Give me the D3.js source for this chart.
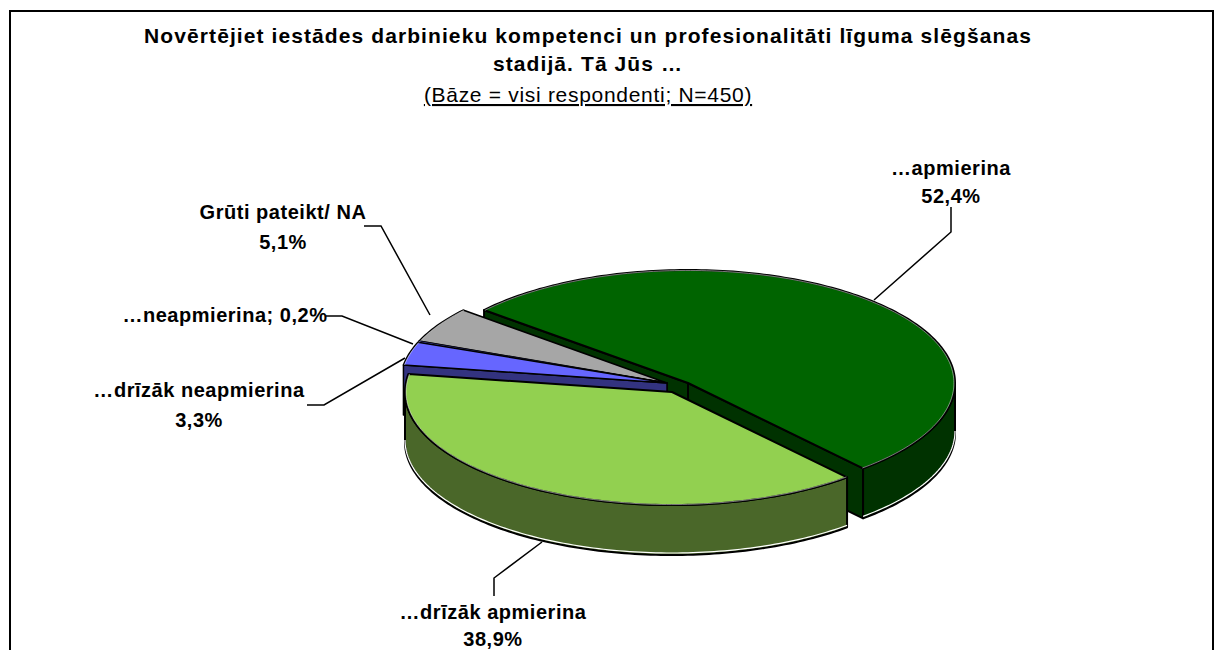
<!DOCTYPE html>
<html><head><meta charset="utf-8">
<script src="https://cdnjs.cloudflare.com/ajax/libs/d3/7.8.5/d3.min.js"></script>
<style>html,body{margin:0;padding:0;background:#fff}svg{display:block}
text{font-family:"Liberation Sans",Arial,sans-serif;fill:#000}</style></head>
<body><svg id="c" width="1227" height="650"></svg>
<script>
const categories=["…apmierina","…drīzāk apmierina","…drīzāk neapmierina","…neapmierina","Grūti pateikt/ NA"];
const values=[52.4,38.9,3.3,0.2,5.1];
const valueLabels=["52,4%","38,9%","3,3%","0,2%","5,1%"];
const topColors=["#006400","#92D050","#6666FF","#6666FF","#A6A6A6"];
const wallColors=["#003200","#4A6729","#333380","#333380","#535353"];
const apexes=[[688,383],[672,392],[667,383],[667,383],[667,383]];
const strokeWidths=[2,2,1.5,0.7,1.5];
const drawOrder=[0,4,3,2,1];
const titleLines=["Novērtējiet iestādes darbinieku kompetenci un profesionalitāti līguma slēgšanas","stadijā. Tā Jūs …"];
const subtitle="(Bāze = visi respondenti; N=450)";

const RX=267,RY=113,DEPTH=50,START=310.2*Math.PI/180;
const svg=d3.select("#c");
svg.append("path").attr("d","M10,650V11H1213V650").attr("fill","none").attr("stroke","#000").attr("stroke-width",2);

const arcs=d3.pie().value(d=>d).sort(null).startAngle(START).endAngle(START+2*Math.PI)(values);
const sx=d3.scaleLinear().domain([-1,1]).range([-RX,RX]);
const sy=d3.scaleLinear().domain([-1,1]).range([-RY,RY]);
const proj=(i,a,r=1,dz=0)=>[apexes[i][0]+sx(r*Math.sin(a)),apexes[i][1]+sy(-r*Math.cos(a))+dz];
const line=d3.line();
const samples=(a0,a1)=>{const n=Math.max(2,Math.ceil((a1-a0)/0.02));return d3.range(n+1).map(k=>a0+(a1-a0)*k/n);};

function frontRanges(a0,a1){
  const out=[];
  for(const s of [-2,0,2]){const lo=Math.max(a0,Math.PI/2+s*Math.PI),hi=Math.min(a1,1.5*Math.PI+s*Math.PI);if(hi>lo)out.push([lo,hi]);}
  return out;
}
const shape=(d,fill,sw)=>svg.append("path").attr("d",d).attr("fill",fill).attr("stroke","#000").attr("stroke-width",sw).attr("stroke-linejoin","round");

drawOrder.forEach(i=>{
  const {startAngle:a0,endAngle:a1}=arcs[i];
  const apex=apexes[i];
  [[a0,Math.sin(a0)<0],[a1,Math.sin(a1)>0]].forEach(([a,vis])=>{
    if(!vis)return;
    const e=proj(i,a);
    shape(line([apex,e,[e[0],e[1]+DEPTH],[apex[0],apex[1]+DEPTH]])+"Z",wallColors[i],strokeWidths[i]);
  });
  frontRanges(a0,a1).forEach(([lo,hi])=>{
    const t=samples(lo,hi);
    const pts=t.map(a=>proj(i,a)).concat(t.slice().reverse().map(a=>proj(i,a,1,DEPTH)));
    shape(line(pts)+"Z",wallColors[i],strokeWidths[i]);
    svg.append("path").attr("d",line(t.map(a=>proj(i,a,1,DEPTH-2)))).attr("fill","none").attr("stroke","#fff").attr("stroke-width",1.2);
  });
  shape(line([apex,...samples(a0,a1).map(a=>proj(i,a))])+"Z",topColors[i],strokeWidths[i]);
  svg.append("path").attr("d",line(samples(a0,a1).map(a=>proj(i,a,0.996)))).attr("fill","none").attr("stroke","#fff").attr("stroke-width",0.8).attr("opacity",0.6);
});

const leaders=[[[951,207],[951,232],[874,300]],[[494,596],[494,578],[542,542]],[[307,405],[324,405],[405,358]],[[326,316],[342,316],[413,344]],[[364,226],[381,226],[430,315]]];
leaders.forEach(p=>svg.append("path").attr("d",line(p)).attr("fill","none").attr("stroke","#000").attr("stroke-width",1.5));

const T=(x,y,s,size,w,ls)=>svg.append("text").attr("x",x).attr("y",y).attr("text-anchor","middle").attr("font-size",size).attr("font-weight",w).attr("letter-spacing",ls).text(s);
T(588,43,titleLines[0],21,"bold",1.09);
T(588,71,titleLines[1],21,"bold",1.09);
T(588,102,subtitle,21,"normal",0.7).attr("text-decoration","underline");

const LS=0.53,LF=20;
const labelPos=[[951,175,203],[493,619,646],[199,397,427],null,[283,219,249]];
[0,1,2,4].forEach(i=>{
  T(labelPos[i][0],labelPos[i][1],categories[i],LF,"bold",LS);
  T(labelPos[i][0],labelPos[i][2],valueLabels[i],LF,"bold",LS);
});
T(225,322,categories[3]+"; "+valueLabels[3],LF,"bold",LS);
</script></body></html>
